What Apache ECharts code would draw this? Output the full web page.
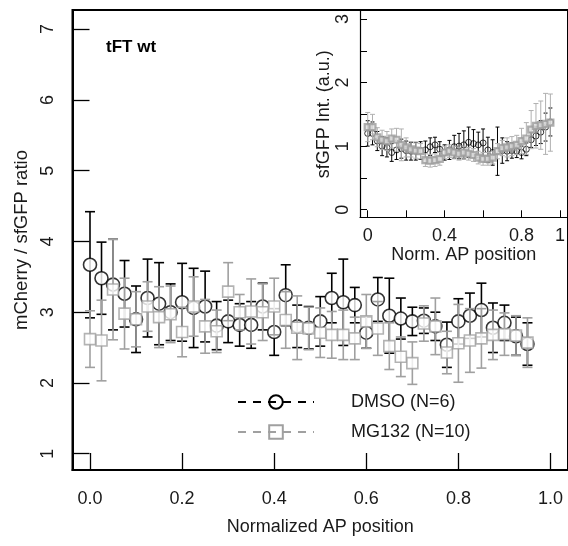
<!DOCTYPE html>
<html><head><meta charset="utf-8">
<script src="https://cdn.jsdelivr.net/npm/echarts@6/dist/echarts.min.js"></script>
<style>html,body{margin:0;padding:0;background:#fff}#c{width:568px;height:546px}</style>
</head><body><div id="c"></div>
<script>
// ---- data ----
const xPos = [0,0.025,0.05,0.075,0.1,0.125,0.15,0.175,0.2,0.225,0.25,0.275,0.3,0.325,0.35,0.375,0.4,0.425,0.45,0.475,0.5,0.525,0.55,0.575,0.6,0.625,0.65,0.675,0.7,0.725,0.75,0.775,0.8,0.825,0.85,0.875,0.9,0.925,0.95];
const dmsoMean = [3.67,3.48,3.39,3.26,2.90,3.20,3.12,3.00,3.14,3.06,3.08,2.81,2.87,2.82,2.82,3.08,2.72,3.24,2.80,2.78,2.87,3.20,3.14,3.10,2.71,3.18,2.95,2.91,2.87,2.88,2.80,2.54,2.87,2.95,3.03,2.78,2.85,2.66,2.55];
const dmsoErr  = [0.75,0.51,0.64,0.47,0.47,0.55,0.58,0.40,0.55,0.56,0.50,0.34,0.30,0.30,0.33,0.33,0.33,0.43,0.30,0.30,0.35,0.35,0.61,0.25,0.22,0.31,0.53,0.29,0.20,0.18,0.20,0.32,0.32,0.32,0.38,0.35,0.25,0.27,0.30];
const mgMean   = [2.62,2.60,3.32,2.98,2.90,3.08,2.93,2.97,2.72,3.08,2.80,2.73,3.29,3.00,3.01,3.00,3.08,2.89,2.78,2.77,2.71,2.68,2.68,2.63,2.87,2.77,2.52,2.37,2.28,2.84,2.80,2.43,2.56,2.60,2.63,2.68,2.69,2.67,2.57];
const mgErr    = [0.40,0.57,0.71,0.50,0.39,0.35,0.43,0.40,0.35,0.42,0.38,0.30,0.41,0.25,0.46,0.40,0.40,0.40,0.45,0.30,0.35,0.33,0.35,0.30,0.38,0.38,0.33,0.28,0.30,0.25,0.40,0.30,0.55,0.45,0.42,0.35,0.30,0.28,0.35];
const insetDmsoMean = [1.20,1.20,1.08,1.00,0.98,0.90,0.94,0.96,0.93,0.92,0.92,0.93,0.94,0.99,1.02,0.95,0.90,0.94,0.99,1.00,1.02,1.06,1.04,1.02,1.05,0.94,0.90,0.92,0.93,0.92,0.93,0.92,0.90,0.95,1.10,1.16,1.22,1.30,1.38];
const insetDmsoErr  = [0.20,0.18,0.15,0.15,0.15,0.14,0.15,0.15,0.15,0.14,0.14,0.14,0.14,0.14,0.12,0.12,0.12,0.15,0.18,0.20,0.22,0.24,0.22,0.20,0.22,0.20,0.20,0.38,0.20,0.15,0.12,0.10,0.10,0.10,0.12,0.15,0.18,0.22,0.22];
const insetMgMean   = [1.30,1.30,1.14,1.10,1.08,1.12,1.10,1.02,0.98,0.95,0.93,0.92,0.78,0.77,0.78,0.80,0.90,0.92,0.90,0.88,0.90,0.88,0.86,0.82,0.80,0.80,0.82,0.92,0.97,0.98,1.00,1.02,1.08,1.12,1.26,1.32,1.33,1.35,1.37];
const insetMgErr    = [0.23,0.20,0.15,0.15,0.15,0.15,0.18,0.25,0.15,0.12,0.12,0.12,0.10,0.10,0.10,0.10,0.10,0.10,0.10,0.10,0.10,0.10,0.10,0.10,0.10,0.10,0.10,0.12,0.12,0.15,0.15,0.15,0.20,0.25,0.30,0.35,0.38,0.48,0.45];
const mainXTicks = [0,0.2,0.4,0.6,0.8,1.0];
const mainYTicks = [1,2,3,4,5,6,7];
const insetXTicks = [0,0.2,0.4,0.6,0.8,1];
const insetXLabels = [0,0.4,0.8,1];
const insetYTicks = [0,0.5,1,1.5,2,2.5,3];
const insetYLabels = [0,1,2,3];
const seriesNames = ['DMSO (N=6)','MG132 (N=10)'];
const panelLabel = 'tFT wt';

// ---- styling ----
const FONT = 'Liberation Sans, Arial, sans-serif';
const TXT = '#1a1a1a';
const BLACK = '#000';
const GRAY = '#a0a0a0';

function barData(m, e){ return xPos.map((x,i)=>[x, m[i]-e[i], m[i]+e[i]]); }
function ptData(m){ return xPos.map((x,i)=>[x, m[i]]); }
function errRender(color, cap, lw){
  return function(params, api){
    const x = api.value(0);
    const lo = api.coord([x, api.value(1)]);
    const hi = api.coord([x, api.value(2)]);
    const st = {stroke: color, lineWidth: lw};
    return {type:'group', children:[
      {type:'line', shape:{x1:lo[0],y1:lo[1],x2:hi[0],y2:hi[1]}, style:st},
      {type:'line', shape:{x1:lo[0]-cap,y1:lo[1],x2:lo[0]+cap,y2:lo[1]}, style:st},
      {type:'line', shape:{x1:hi[0]-cap,y1:hi[1],x2:hi[0]+cap,y2:hi[1]}, style:st}
    ]};
  };
}

const chart = echarts.init(document.getElementById('c'), null, {renderer:'canvas'});
const option = {
  animation: false,
  backgroundColor: '#fff',
  textStyle: {fontFamily: FONT},
  grid: [
    {left: 72.5, right: -3, top: 10, bottom: 76, show: true, borderColor: BLACK, borderWidth: 2, backgroundColor: 'transparent'},
    {left: 360, right: -2.5, top: 11.4, bottom: 328.7}
  ],
  xAxis: [
    {type:'value', gridIndex:0, min:-0.038, max:1.038,
     axisLine:{show:true, onZero:false, lineStyle:{color:BLACK, width:2}},
     axisTick:{show:true, inside:true, length:17, customValues: mainXTicks, lineStyle:{color:BLACK, width:1.3}},
     axisLabel:{show:true, customValues: mainXTicks, formatter: v=>Number(v).toFixed(1), margin:20, fontSize:18, color:TXT, fontFamily:FONT},
     splitLine:{show:false},
     name:'Normalized AP position', nameLocation:'middle', nameGap:48, nameTextStyle:{fontSize:18, color:TXT, fontFamily:FONT}},
    {type:'value', gridIndex:1, min:-0.04, max:1.04,
     axisLine:{show:true, onZero:false, lineStyle:{color:BLACK, width:1.2}},
     axisTick:{show:true, inside:true, length:7, customValues: insetXTicks, lineStyle:{color:BLACK, width:1}},
     axisLabel:{show:true, customValues: insetXLabels, formatter: v=>String(Number(v)), margin:10, fontSize:18, color:TXT, fontFamily:FONT},
     splitLine:{show:false},
     name:'Norm. AP position', nameLocation:'middle', nameGap:25, nameTextStyle:{fontSize:18, color:TXT, fontFamily:FONT}}
  ],
  yAxis: [
    {type:'value', gridIndex:0, min:0.77, max:7.27,
     axisLine:{show:true, onZero:false, lineStyle:{color:BLACK, width:2}},
     axisTick:{show:true, inside:true, length:17, customValues: mainYTicks, lineStyle:{color:BLACK, width:1.3}},
     axisLabel:{show:true, customValues: mainYTicks, rotate:90, margin:15, fontSize:18, color:TXT, fontFamily:FONT},
     splitLine:{show:false},
     name:'mCherry / sfGFP ratio', nameLocation:'middle', nameGap:40, nameTextStyle:{fontSize:18.5, color:TXT, fontFamily:FONT}},
    {type:'value', gridIndex:1, min:-0.12, max:3.12,
     axisLine:{show:true, onZero:false, lineStyle:{color:BLACK, width:1.2}},
     axisTick:{show:true, inside:true, length:7, customValues: insetYTicks, lineStyle:{color:BLACK, width:1}},
     axisLabel:{show:true, customValues: insetYLabels, rotate:90, margin:8, fontSize:18, color:TXT, fontFamily:FONT},
     splitLine:{show:false},
     name:'sfGFP Int. (a.u.)', nameLocation:'middle', nameGap:24, nameTextStyle:{fontSize:18, color:TXT, fontFamily:FONT}}
  ],
  legend: [
    {data:[seriesNames[0]], left:237, top:392, padding:0, itemWidth:76, itemHeight:17, selectedMode:false,
     textStyle:{fontSize:18, color:TXT, fontFamily:FONT, padding:[0,0,0,32], lineHeight:20}},
    {data:[seriesNames[1]], left:237, top:422, padding:0, itemWidth:76, itemHeight:17, selectedMode:false,
     textStyle:{fontSize:18, color:TXT, fontFamily:FONT, padding:[0,0,0,32], lineHeight:20}}
  ],
  graphic: [
    {type:'text', x:106, y:47, style:{text: panelLabel, font:'bold 17px '+FONT, fill:BLACK, verticalAlign:'middle'}}
  ],
  series: [
    {type:'custom', name:'dmsoBars', xAxisIndex:0, yAxisIndex:0, renderItem: errRender(BLACK,5,1.6), data: barData(dmsoMean,dmsoErr), z:1, silent:true},
    {type:'scatter', name:'dmsoPts', xAxisIndex:0, yAxisIndex:0, symbol:'circle', symbolSize:13, data: ptData(dmsoMean),
     itemStyle:{color:'#fff', borderColor:BLACK, borderWidth:1.6}, z:2},
    {type:'custom', name:'mgBars', xAxisIndex:0, yAxisIndex:0, renderItem: errRender(GRAY,5,1.6), data: barData(mgMean,mgErr), z:3, silent:true},
    {type:'scatter', name:'mgPts', xAxisIndex:0, yAxisIndex:0, symbol:'rect', symbolSize:11, data: ptData(mgMean),
     itemStyle:{color:'#fff', borderColor:GRAY, borderWidth:1.6}, z:4},

    {type:'custom', name:'insDmsoBars', xAxisIndex:1, yAxisIndex:1, renderItem: errRender(BLACK,2,1), data: barData(insetDmsoMean,insetDmsoErr), z:1, silent:true},
    {type:'scatter', name:'insDmsoPts', xAxisIndex:1, yAxisIndex:1, symbol:'circle', symbolSize:6, data: ptData(insetDmsoMean),
     itemStyle:{color:'rgba(0,0,0,0)', borderColor:BLACK, borderWidth:1}, z:2},
    {type:'custom', name:'insMgBars', xAxisIndex:1, yAxisIndex:1, renderItem: errRender('#b0b0b0',2.5,1), data: barData(insetMgMean,insetMgErr), z:3, silent:true},
    {type:'scatter', name:'insMgPts', xAxisIndex:1, yAxisIndex:1, symbol:'rect', symbolSize:6, data: ptData(insetMgMean),
     itemStyle:{color:'#dedede', borderColor:'#9c9c9c', borderWidth:2.2}, z:4},

    {type:'line', name: seriesNames[0], xAxisIndex:0, yAxisIndex:0, data:[], symbol:'circle', symbolSize:13,
     lineStyle:{color:BLACK, width:1.6, type:[8,7]}, itemStyle:{color:'rgba(0,0,0,0)', borderColor:BLACK, borderWidth:1.6}},
    {type:'line', name: seriesNames[1], xAxisIndex:0, yAxisIndex:0, data:[], symbol:'rect', symbolSize:11,
     lineStyle:{color:GRAY, width:1.6, type:[8,7]}, itemStyle:{color:'rgba(0,0,0,0)', borderColor:GRAY, borderWidth:1.6}}
  ]
};
chart.setOption(option);
</script>
</body></html>
